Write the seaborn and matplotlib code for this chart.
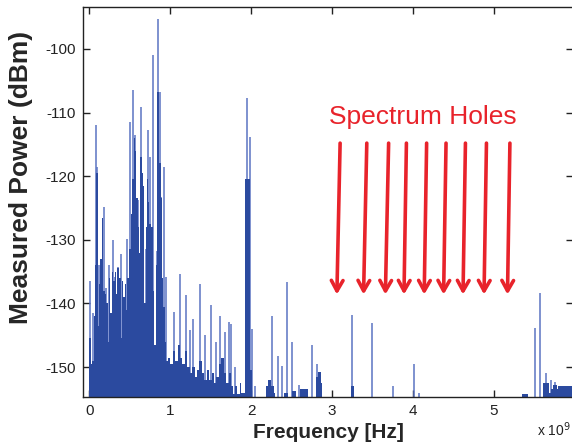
import numpy as np
import pandas as pd
import matplotlib
matplotlib.use("Agg")
import matplotlib.pyplot as plt
import seaborn as sns

# dense spectrum envelope (GHz, dBm); each level holds until the next frequency
fill_freq = [0.000, 0.015, 0.035, 0.050, 0.065, 0.080, 0.100, 0.115, 0.130, 0.150,
             0.170, 0.190, 0.210, 0.225, 0.240, 0.260, 0.275, 0.295, 0.315, 0.330,
             0.345, 0.365, 0.385, 0.400, 0.420, 0.440, 0.455, 0.470, 0.490, 0.510,
             0.530, 0.545, 0.565, 0.580, 0.600, 0.615, 0.630, 0.650, 0.665, 0.680,
             0.695, 0.710, 0.725, 0.740, 0.760, 0.780, 0.800, 0.820, 0.840, 0.865,
             0.880, 0.895, 0.910, 0.930, 0.950, 0.975, 1.000, 1.030, 1.060, 1.090,
             1.120, 1.150, 1.180, 1.210, 1.240, 1.270, 1.300, 1.330, 1.360, 1.390,
             1.420, 1.450, 1.480, 1.510, 1.540, 1.570, 1.600, 1.630, 1.660, 1.690,
             1.720, 1.750, 1.780, 1.800, 1.830, 1.860, 1.880, 1.925, 1.985, 2.010,
             2.040, 2.180, 2.210, 2.240, 2.280, 2.300, 2.400, 2.450, 2.500, 2.560,
             2.600, 2.700, 2.800, 2.830, 2.860, 2.880, 3.230, 3.270, 5.350, 5.420,
             5.610, 5.680, 5.710, 5.730, 5.780, 5.800, 6.000]
fill_power = [-145.5, -149.5, -149.0, -142.0, -134.0, -119.5, -143.5, -137.0, -133.0, -126.5,
              -138.0, -138.5, -140.0, -146.0, -136.0, -141.5, -135.0, -136.5, -135.0, -138.5,
              -134.5, -136.0, -145.5, -136.5, -139.0, -137.0, -141.0, -136.0, -131.5, -126.0,
              -120.5, -114.0, -116.0, -123.5, -128.0, -132.0, -117.0, -119.5, -121.5, -140.0,
              -128.0, -120.5, -124.0, -127.5, -128.0, -138.0, -146.5, -134.0, -106.8, -118.0,
              -123.5, -136.0, -140.5, -146.0, -149.0, -148.5, -149.5, -147.5, -149.0, -146.5,
              -148.5, -149.5, -147.5, -150.0, -151.0, -150.0, -151.5, -150.5, -149.0, -151.0,
              -152.0, -150.5, -152.0, -151.0, -152.5, -151.5, -149.5, -148.5, -151.0, -152.5,
              -151.0, -153.0, -154.2, -153.0, -154.3, -152.5, -154.0, -120.5, -150.5, -156.0,
              -156.0, -153.0, -152.0, -153.0, -154.0, -156.0, -154.0, -156.0, -153.8, -156.0,
              -153.5, -156.0, -151.5, -150.8, -152.5, -156.0, -153.0, -156.0, -154.2, -156.0,
              -152.5, -154.0, -153.5, -152.8, -153.5, -153.0, -153.0]

# narrow spectral spikes (GHz, dBm)
spike_freq = [0.010, 0.040, 0.085, 0.095, 0.120, 0.145, 0.178, 0.200, 0.240, 0.290,
              0.320, 0.350, 0.390, 0.460, 0.500, 0.540, 0.565, 0.600, 0.640, 0.700,
              0.730, 0.750, 0.780, 0.830, 0.852, 0.870, 0.890, 0.920, 0.950, 1.050,
              1.120, 1.190, 1.240, 1.280, 1.370, 1.430, 1.500, 1.560, 1.620, 1.680,
              1.720, 1.750, 1.800, 1.946, 1.980, 2.010, 2.050, 2.255, 2.330, 2.380,
              2.440, 2.510, 2.590, 2.750, 2.810, 3.250, 3.500, 3.760, 4.010, 4.070,
              5.510, 5.570, 5.650, 5.710, 5.760]
spike_power = [-136.5, -141.5, -112.0, -118.5, -134.0, -133.8, -124.8, -137.5, -134.0, -130.1,
               -135.9, -134.3, -132.2, -129.8, -111.5, -106.5, -113.6, -123.8, -109.2, -131.5,
               -112.8, -117.0, -101.0, -131.7, -95.3, -106.8, -123.3, -118.6, -135.9, -141.4,
               -135.3, -138.7, -144.2, -142.5, -136.9, -145.0, -140.3, -146.0, -141.9, -144.5,
               -142.9, -143.2, -150.0, -107.7, -113.8, -144.0, -152.9, -142.0, -148.3, -149.8,
               -136.6, -146.0, -152.8, -146.6, -149.5, -141.8, -143.1, -152.9, -149.5, -154.0,
               -143.8, -138.4, -151.0, -152.0, -152.3]

# spectrum hole arrows: tail / tip frequencies (GHz)
hole_tail = [3.10, 3.43, 3.70, 3.92, 4.17, 4.41, 4.65, 4.91, 5.20]
hole_tip = [3.06, 3.39, 3.66, 3.89, 4.14, 4.38, 4.62, 4.88, 5.17]

FLOOR = -160
FILL_COLOR = "#2b4a9f"
SPIKE_COLOR = "#5b74c2"
RED = "#e8232b"

sns.set_style("ticks")
plt.rcParams["font.family"] = ["Liberation Sans", "DejaVu Sans"]
plt.rcParams["axes.unicode_minus"] = False

fig = plt.figure(figsize=(5.72, 4.47), dpi=100)
ax = fig.add_axes([0.1451, 0.1119, 0.8566, 0.8725])

df = pd.DataFrame({"freq": fill_freq, "power": fill_power})
# spikes first, the solid spectrum is laid over them
ax.vlines(spike_freq, FLOOR, spike_power, color=SPIKE_COLOR, linewidth=1.1, zorder=1)
ax.fill_between(df["freq"], df["power"], FLOOR, step="post",
                color=FILL_COLOR, linewidth=0, zorder=2)

for tail, tip in zip(hole_tail, hole_tip):
    ax.annotate("", xy=(tip, -138.6), xytext=(tail, -114.8),
                arrowprops=dict(arrowstyle="->,head_length=0.75,head_width=0.42",
                                color=RED, lw=2.6, shrinkA=0, shrinkB=0))
ax.text(4.12, -110.7, "Spectrum Holes", color=RED, fontsize=19,
        ha="center", va="center")

ax.set_xlim(-0.08, 5.98)
ax.set_ylim(-154.7, -93.4)
ax.set_xticks(np.arange(0, 6))
ax.set_yticks(np.arange(-150, -99, 10))
ax.tick_params(direction="in", length=5, width=1, top=True, right=True,
               labelsize=11, colors="#222222", pad=5)
for sp in ax.spines.values():
    sp.set_color("#222222")
    sp.set_linewidth(1)

ax.set_xlabel("Frequency [Hz]", fontsize=15, fontweight="bold", labelpad=4)
ax.set_ylabel("Measured Power (dBm)", fontsize=19, fontweight="bold")
ax.yaxis.set_label_coords(-0.102, 0.564)
fig.text(0.998, 0.025, r"x 10$^9$", fontsize=10, color="#222222", ha="right", va="baseline")

fig.savefig("out.png", dpi=100)
